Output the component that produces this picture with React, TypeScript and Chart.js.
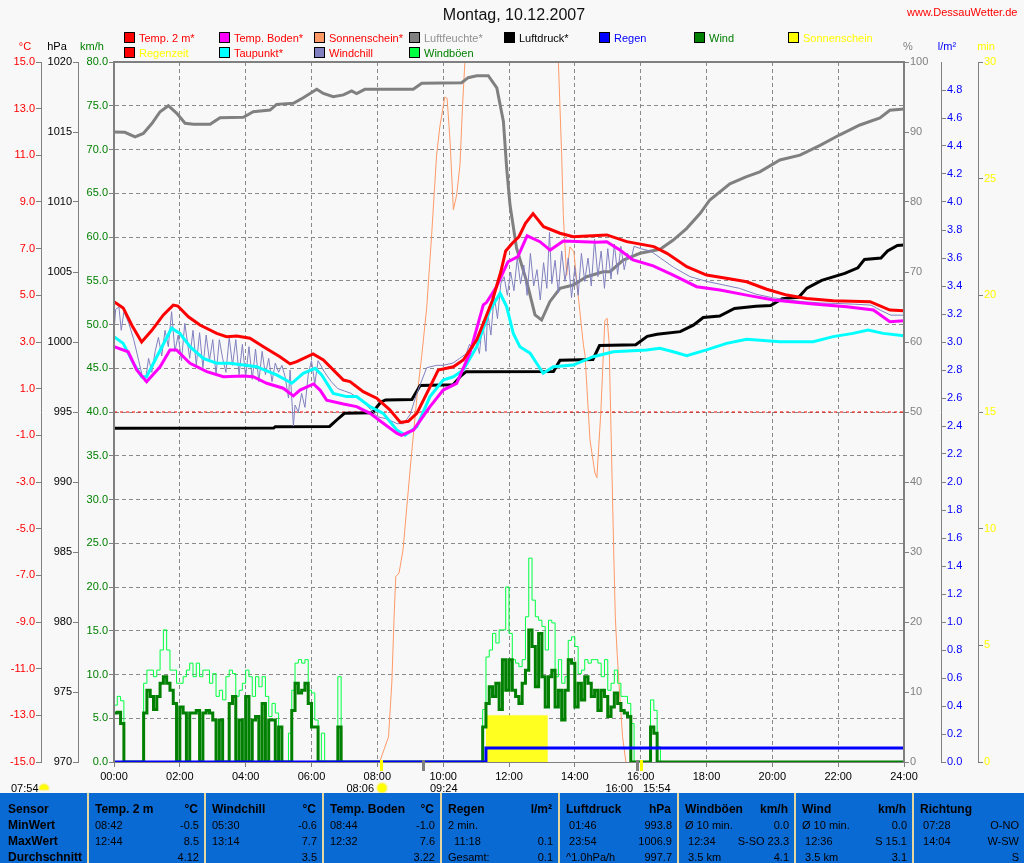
import React, { useEffect, useRef } from 'react';
import { Chart, registerables } from 'chart.js';

Chart.register(...registerables);

const FONT = "'Liberation Sans', Arial, sans-serif";

// ---------- ticks ----------
const HOUR_TICKS = [0, 2, 4, 6, 8, 10, 12, 14, 16, 18, 20, 22, 24];
const TEMP_TICKS = [-15, -13, -11, -9, -7, -5, -3, -1, 1, 3, 5, 7, 9, 11, 13, 15];
const HPA_TICKS = [970, 975, 980, 985, 990, 995, 1000, 1005, 1010, 1015, 1020];
const KMH_TICKS = [0, 5, 10, 15, 20, 25, 30, 35, 40, 45, 50, 55, 60, 65, 70, 75, 80];
const PCT_TICKS = [0, 10, 20, 30, 40, 50, 60, 70, 80, 90, 100];
const RAIN_TICKS = [0, 0.2, 0.4, 0.6, 0.8, 1.0, 1.2, 1.4, 1.6, 1.8, 2.0, 2.2, 2.4, 2.6, 2.8, 3.0, 3.2, 3.4, 3.6, 3.8, 4.0, 4.2, 4.4, 4.6, 4.8];
const MIN_TICKS = [0, 5, 10, 15, 20, 25, 30];

// ---------- series: [hour, value] ----------
const TEMP_2M = [
  [0, 4.73], [0.28, 4.46], [0.55, 3.7], [0.84, 3.0], [1.15, 3.5], [1.5, 4.16], [1.8, 4.58], [1.94, 4.54],
  [2.26, 4.08], [2.61, 3.73], [3.12, 3.37], [3.42, 3.23], [3.73, 3.26], [4.13, 3.16], [4.54, 2.8], [5.04, 2.37],
  [5.35, 2.06], [5.55, 2.16], [6.05, 2.49], [6.36, 2.23], [6.97, 1.37], [7.17, 1.3], [7.57, 0.87], [7.98, 0.59],
  [8.38, 0.09], [8.7, -0.45], [8.94, -0.4], [9.2, -0.06], [9.6, 1.08], [9.85, 1.8], [10.31, 1.94], [10.61, 2.23],
  [11.02, 3.09], [11.25, 3.9], [11.5, 4.8], [11.75, 6.0], [11.9, 6.9], [12.1, 7.23], [12.3, 7.51], [12.5, 8.09],
  [12.73, 8.5], [13.05, 7.94], [13.55, 7.66], [13.95, 7.51], [14.97, 7.59], [15.58, 7.3], [16.4, 7.09], [16.8, 6.8],
  [17.4, 6.23], [18.0, 5.87], [18.6, 5.73], [19.22, 5.58], [19.83, 5.26], [20.44, 5.01], [21.04, 4.86], [21.85, 4.77],
  [22.97, 4.73], [23.57, 4.37], [24, 4.34],
];

const TEMP_BODEN = [
  [0, 2.8], [0.43, 2.58], [0.69, 1.8], [0.99, 1.3], [1.4, 1.94], [1.7, 2.66], [1.9, 2.66], [2.31, 2.09],
  [2.82, 1.73], [3.32, 1.51], [3.93, 1.54], [4.23, 1.51], [4.64, 1.23], [5.14, 1.02], [5.45, 0.69], [5.65, 0.94],
  [6.06, 1.2], [6.26, 0.94], [6.46, 0.51], [6.97, 0.34], [7.37, 0.23], [7.78, -0.06], [8.18, -0.48], [8.59, -0.91],
  [8.73, -1.0], [9.1, -0.77], [9.6, 0.23], [10.0, 0.94], [10.41, 1.23], [10.81, 2.52], [11.22, 4.59], [11.32, 4.7],
  [11.62, 5.37], [11.97, 6.44], [12.27, 6.66], [12.55, 7.55], [12.94, 7.3], [13.25, 6.94], [13.65, 7.33], [14.66, 7.27],
  [14.97, 7.3], [15.37, 6.94], [15.77, 6.52], [16.38, 6.26], [16.99, 5.87], [17.7, 5.37], [18.41, 5.23], [19.22, 5.01],
  [20.03, 4.8], [21.24, 4.63], [22.26, 4.51], [23.07, 4.37], [23.57, 3.87], [24, 3.91],
];

const TAUPUNKT = [
  [0, 3.23], [0.28, 2.94], [0.59, 2.09], [0.84, 1.51], [0.99, 1.51], [1.3, 2.37], [1.75, 3.59], [2.0, 3.37],
  [2.31, 2.8], [2.71, 2.3], [3.12, 2.09], [3.52, 2.09], [3.93, 2.01], [4.33, 1.94], [4.94, 1.59], [5.4, 1.23],
  [5.75, 1.66], [6.11, 1.87], [6.31, 1.59], [6.66, 0.8], [7.07, 0.66], [7.37, 0.66], [7.78, 0.23], [8.18, -0.06],
  [8.59, -0.77], [8.84, -0.99], [9.2, -0.63], [9.6, 0.66], [10.0, 1.37], [10.31, 1.51], [10.61, 1.8], [11.02, 2.8],
  [11.42, 4.37], [11.73, 5.09], [11.93, 4.51], [12.13, 3.37], [12.33, 2.8], [12.64, 2.52], [12.84, 2.09], [13.04, 1.66],
  [13.35, 1.94], [13.95, 2.01], [14.56, 2.37], [15.17, 2.58], [16.18, 2.66], [16.58, 2.73], [16.99, 2.58], [17.4, 2.41],
  [18.0, 2.66], [18.61, 2.94], [19.22, 3.12], [20.23, 3.01], [21.24, 3.01], [21.85, 3.23], [22.45, 3.37], [22.91, 3.51],
  [23.37, 3.37], [24, 3.27],
];

const WINDCHILL = [
  [0, 3.4], [0.05, 4.4], [0.15, 4.5], [0.22, 3.5], [0.3, 4.3], [0.45, 3.8], [0.6, 3.1], [0.75, 2.2], [0.85, 1.6],
  [0.95, 1.3], [1.05, 2.3], [1.15, 1.7], [1.25, 2.6], [1.35, 3.2], [1.45, 2.4], [1.55, 3.5], [1.65, 2.8], [1.75, 4.3],
  [1.85, 2.6], [1.95, 3.3], [2.05, 2.2], [2.15, 3.8], [2.3, 2.3], [2.4, 3.5], [2.5, 2.0], [2.6, 3.4], [2.7, 1.9],
  [2.8, 3.3], [2.9, 2.2], [3.0, 3.1], [3.1, 1.6], [3.2, 3.1], [3.3, 2.3], [3.4, 1.7], [3.5, 3.2], [3.6, 2.0],
  [3.7, 3.1], [3.8, 1.6], [3.9, 2.9], [4.0, 1.5], [4.1, 2.8], [4.2, 1.4], [4.3, 2.7], [4.4, 1.3], [4.5, 2.6],
  [4.6, 1.6], [4.7, 2.3], [4.8, 1.3], [4.9, 2.1], [5.0, 1.7], [5.1, 2.0], [5.2, 1.5], [5.3, 0.6], [5.35, 1.8],
  [5.45, -0.6], [5.5, 0.3], [5.6, 0.0], [5.7, 0.8], [5.8, 0.2], [5.9, 1.6], [6.0, 2.2], [6.1, 1.2], [6.2, 2.2],
  [6.4, 1.7], [6.6, 1.3], [6.8, 1.0], [7.0, 0.9], [7.2, 0.8], [7.4, 0.6], [7.6, 0.4], [7.8, 0.1], [8.0, -0.2],
  [8.3, -0.3], [8.6, -0.5], [8.8, -0.5], [9.0, -0.1], [9.2, 0.8], [9.5, 1.9], [9.8, 2.0], [10.0, 2.0], [10.3, 2.1],
  [10.5, 2.3], [10.7, 2.5], [10.8, 2.9], [10.9, 2.7], [11.0, 3.1], [11.1, 2.5], [11.2, 3.9], [11.3, 2.6], [11.35, 4.3],
  [11.45, 3.3], [11.55, 5.0], [11.65, 4.0], [11.75, 5.5], [11.85, 5.8], [11.95, 5.0], [12.05, 6.0], [12.15, 5.2],
  [12.25, 6.6], [12.35, 5.5], [12.45, 6.3], [12.55, 5.0], [12.65, 6.8], [12.75, 5.4], [12.85, 6.1], [12.95, 4.8],
  [13.05, 6.4], [13.15, 5.3], [13.23, 7.7], [13.3, 5.5], [13.4, 6.5], [13.5, 5.1], [13.6, 6.9], [13.7, 5.6],
  [13.8, 6.6], [13.9, 4.9], [14.0, 6.2], [14.1, 5.0], [14.2, 6.8], [14.3, 5.6], [14.4, 6.6], [14.5, 5.4], [14.6, 7.4],
  [14.7, 5.8], [14.8, 6.9], [14.9, 5.3], [15.0, 7.0], [15.1, 5.7], [15.2, 7.2], [15.3, 5.9], [15.4, 7.1], [15.5, 6.1],
  [15.6, 6.8], [15.7, 6.5], [15.8, 7.1], [16.0, 7.0], [16.3, 6.9], [16.6, 6.6], [17.0, 6.2], [17.5, 5.8], [18.0, 5.6],
  [18.5, 5.45], [19.0, 5.3], [19.5, 5.05], [20.0, 4.9], [20.5, 4.8], [21.0, 4.72], [21.5, 4.67], [22.0, 4.65],
  [22.5, 4.62], [23.0, 4.58], [23.3, 4.35], [23.6, 4.15], [24, 4.15],
];

const LUFTFEUCHTE = [
  [0, 90.0], [0.33, 89.95], [0.64, 89.3], [0.89, 89.8], [1.15, 91.2], [1.4, 92.9], [1.65, 93.76], [1.9, 92.7],
  [2.16, 91.24], [2.41, 91.1], [2.92, 91.1], [3.22, 92.05], [3.93, 92.1], [4.23, 92.9], [4.74, 93.14], [4.94, 93.95],
  [5.45, 94.1], [5.75, 94.9], [6.16, 96.1], [6.36, 95.5], [6.66, 95.05], [6.97, 95.3], [7.22, 95.86], [7.37, 95.5],
  [7.62, 96.1], [9.09, 96.1], [9.35, 96.95], [10.56, 97.04], [10.76, 97.76], [11.02, 98.04], [11.37, 98.04],
  [11.63, 96.3], [11.83, 91.5], [11.93, 84.8], [12.03, 79.6], [12.23, 73.4], [12.54, 68.6], [12.79, 63.86],
  [12.99, 63.14], [13.24, 65.76], [13.55, 67.67], [13.95, 68.14], [14.36, 69.33], [14.86, 70.04], [15.07, 70.04],
  [15.47, 71.7], [15.98, 72.67], [16.59, 73.24], [16.99, 74.57], [17.4, 76.24], [17.81, 78.38], [18.1, 80.29],
  [18.71, 82.6], [19.2, 83.6], [19.62, 84.3], [20.23, 86.0], [20.84, 86.7], [21.45, 88.1], [22.05, 89.6],
  [22.66, 91.0], [23.27, 92.0], [23.57, 93.1], [24, 93.3],
];

const LUFTDRUCK = [
  [0, 993.84], [4.85, 993.85], [4.9, 993.95], [6.55, 993.97], [6.8, 994.5], [7.0, 994.91], [7.85, 994.95],
  [8.1, 995.7], [8.25, 995.86], [9.05, 995.9], [9.3, 996.9], [10.3, 996.95], [10.55, 997.6], [10.7, 997.88],
  [13.35, 997.9], [13.55, 998.7], [14.55, 998.75], [14.75, 999.75], [15.85, 999.8], [16.2, 1000.4], [16.5, 1000.55],
  [17.2, 1000.74], [17.6, 1001.2], [17.9, 1001.75], [18.4, 1001.85], [18.85, 1002.4], [19.5, 1002.55],
  [19.95, 1002.6], [20.3, 1003.1], [20.8, 1003.2], [21.05, 1003.85], [21.5, 1004.4], [22.2, 1004.9],
  [22.6, 1005.3], [22.8, 1005.9], [23.3, 1006.0], [23.5, 1006.5], [23.8, 1006.9], [24, 1006.93],
];

// radiation-like "Sonnenschein*" curve (hidden 0..1000 scale)
const SONNE_STAR = [
  [8.07, 0], [8.34, 36], [8.44, 113], [8.51, 208], [8.56, 265], [8.66, 270], [8.78, 303], [9.0, 420], [9.2, 520],
  [9.35, 581], [9.5, 649], [9.65, 753], [9.8, 867], [9.9, 908], [10.05, 950], [10.12, 948], [10.21, 886],
  [10.31, 789], [10.41, 810], [10.51, 853], [10.59, 939], [10.66, 1000], [10.75, 1150], [11.0, 1250], [13.2, 1250],
  [13.45, 1100], [13.5, 1000], [13.6, 867], [13.65, 781], [13.75, 695], [13.85, 736], [13.97, 729], [14.1, 667],
  [14.26, 596], [14.31, 581], [14.46, 460], [14.61, 413], [14.67, 406], [14.79, 500], [14.91, 630], [14.98, 634],
  [15.04, 600], [15.18, 303], [15.23, 207], [15.28, 160], [15.34, 113], [15.45, 36], [15.55, 0],
];

// wind, km/h, one value every 6 minutes from 00:00 to 16:54
const WIND = [
  5.6, 5.7, 4.4, 0, 0, 0, 0, 0, 0, 5.6,
  8.2, 7.5, 6.0, 7.5, 9.0, 9.75, 9.0, 8.2, 6.7, 0,
  6.3, 5.6, 0, 5.6, 5.6, 5.9, 0, 5.6, 5.9, 5.6,
  4.8, 0, 4.8, 0, 0, 6.7, 7.5, 0, 4.8, 0,
  7.5, 0, 4.8, 5.2, 0, 6.7, 0, 4.8, 4.8, 0,
  4.0, 0, 0, 0, 5.9, 9.0, 7.9, 8.2, 9.0, 6.7,
  4.0, 4.0, 0, 0, 0, 0, 0, 0, 4.0, 0,
  0, 0, 0, 0, 0, 0, 0, 0, 0, 0,
  0, 0, 0, 0, 0, 0, 0, 0, 0, 0,
  0, 0, 0, 0, 0, 0, 0, 0, 0, 0,
  0, 0, 0, 0, 0, 0, 0, 0, 0, 0,
  0, 0, 4.0, 6.7, 8.6, 7.5, 9.0, 6.0, 11.7, 8.2,
  11.7, 8.2, 7.5, 6.7, 9.0, 10.5, 15.1, 13.2, 8.6, 14.7,
  9.75, 6.3, 9.75, 10.5, 6.3, 8.2, 4.8, 8.2, 11.7, 11.3,
  6.3, 9.0, 7.1, 9.75, 9.0, 7.5, 8.2, 5.9, 8.2, 7.5,
  5.2, 6.3, 7.9, 6.7, 5.9, 5.6, 5.2, 0, 0, 0,
  0, 0, 0, 4.0, 3.3, 0, 0, 0, 0, 0,
];

const WINDBOEN = [
  6.5, 7.5, 7.0, 0, 0, 0, 0, 0, 0, 9.0,
  10.5, 10.5, 9.75, 10.5, 12.8, 15.1, 12.8, 10.5, 10.5, 9.0,
  9.0, 9.75, 10.5, 11.3, 9.75, 11.3, 9.75, 10.5, 10.5, 9.0,
  10.1, 7.5, 8.2, 7.1, 9.75, 10.5, 10.1, 7.5, 8.2, 9.0,
  10.5, 9.75, 7.5, 9.75, 8.6, 9.75, 7.5, 5.2, 6.7, 5.6,
  4.0, 0, 0, 3.3, 8.2, 11.3, 11.7, 11.3, 11.7, 8.2,
  7.9, 4.8, 0, 3.3, 0, 0, 0, 0, 9.75, 0,
  0, 0, 0, 0, 0, 0, 0, 0, 0, 0,
  0, 0, 0, 0, 0, 0, 0, 0, 0, 0,
  0, 0, 0, 0, 0, 0, 0, 0, 0, 0,
  0, 0, 0, 0, 0, 0, 0, 0, 0, 0,
  0, 0, 6.0, 12.0, 12.8, 14.7, 13.6, 15.1, 15.1, 20.0,
  14.7, 11.7, 11.3, 10.9, 11.7, 16.6, 23.3, 18.5, 16.6, 16.2,
  15.5, 12.8, 16.2, 15.9, 9.75, 11.7, 9.0, 9.75, 13.9, 14.3,
  13.2, 10.1, 10.5, 11.7, 11.3, 11.7, 11.7, 11.3, 9.75, 11.7,
  8.2, 9.0, 10.5, 9.0, 7.5, 7.5, 6.7, 4.4, 0, 0,
  0, 0, 0, 7.1, 5.9, 1.75, 0, 0, 0, 0,
];

const REGEN = [[0, 0], [11.3, 0], [11.3, 0.1], [24, 0.1]];
const SONNE_MIN = [[11.3, 2], [13.18, 2]];
const NULL_LINE = [[0, 0], [24, 0]];

// sunrise / event marks under the time axis
const MARKS = [
  { t: 8.1, color: '#ffff00' },
  { t: 9.4, color: '#808080' },
  { t: 15.9, color: '#808080' },
  { t: 16.0, color: '#ffff00' },
];

const LEGEND = [
  { x: 124, y: 37, box: '#ff0000', text: 'Temp. 2 m*', color: '#ff0000' },
  { x: 219, y: 37, box: '#ff00ff', text: 'Temp. Boden*', color: '#ff0000' },
  { x: 314, y: 37, box: '#ff9966', text: 'Sonnenschein*', color: '#ff0000' },
  { x: 409, y: 37, box: '#808080', text: 'Luftfeuchte*', color: '#909090' },
  { x: 504, y: 37, box: '#000000', text: 'Luftdruck*', color: '#000000' },
  { x: 599, y: 37, box: '#0000ff', text: 'Regen', color: '#0000ff' },
  { x: 694, y: 37, box: '#008000', text: 'Wind', color: '#008000' },
  { x: 788, y: 37, box: '#ffff00', text: 'Sonnenschein', color: '#ffff00' },
  { x: 124, y: 52, box: '#ff0000', text: 'Regenzeit', color: '#ffff00' },
  { x: 219, y: 52, box: '#00ffff', text: 'Taupunkt*', color: '#ff0000' },
  { x: 314, y: 52, box: '#8080c0', text: 'Windchill', color: '#ff0000' },
  { x: 409, y: 52, box: '#00ff40', text: 'Windböen', color: '#008000' },
];

const TABLE_COLS = [
  { l: 89, r: 204, head: 'Temp. 2 m', unit: '°C', rows: [['08:42', '-0.5'], ['12:44', '8.5'], ['', '4.12']] },
  { l: 206, r: 322, head: 'Windchill', unit: '°C', rows: [['05:30', '-0.6'], ['13:14', '7.7'], ['', '3.5']] },
  { l: 324, r: 440, head: 'Temp. Boden', unit: '°C', rows: [['08:44', '-1.0'], ['12:32', '7.6'], ['', '3.22']] },
  { l: 442, r: 558, head: 'Regen', unit: 'l/m²', rows: [['2 min.', ''], ['  11:18', '0.1'], ['Gesamt:', '0.1']] },
  { l: 560, r: 677, head: 'Luftdruck', unit: 'hPa', rows: [[' 01:46', '993.8'], [' 23:54', '1006.9'], ['^1.0hPa/h', '997.7']] },
  { l: 679, r: 794, head: 'Windböen', unit: 'km/h', rows: [['Ø 10 min.', '0.0'], [' 12:34', 'S-SO 23.3'], [' 3.5 km', '4.1']] },
  { l: 796, r: 912, head: 'Wind', unit: 'km/h', rows: [['Ø 10 min.', '0.0'], [' 12:36', 'S 15.1'], [' 3.5 km', '3.1']] },
  { l: 914, r: 1024, head: 'Richtung', unit: '', rows: [[' 07:28', 'O-NO'], [' 14:04', 'W-SW'], ['', 'S']] },
];
const ROW_LABELS = ['Sensor', 'MinWert', 'MaxWert', 'Durchschnitt'];

// ---------- helpers ----------
const xy = (arr: number[][]) => arr.map(([x, y]) => ({ x, y }));
const seq = (vals: number[]) => {
  const pts = vals.map((v, i) => ({ x: i / 10, y: v }));
  pts.push({ x: 24, y: 0 });
  return pts;
};

const tickFont = { family: FONT, size: 11 };

function yScale(
  pos: 'left' | 'right', weight: number, min: number, max: number, ticks: number[],
  color: string, fmt: (v: number) => string, width: number, mainGrid = false,
) {
  return {
    type: 'linear',
    position: pos,
    weight,
    min,
    max,
    afterBuildTicks: (s: any) => { s.ticks = ticks.map((v) => ({ value: v })); },
    afterFit: (s: any) => { s.width = width; },
    ticks: { color, font: tickFont, padding: 1, autoSkip: false, callback: (v: any) => fmt(Number(v)) },
    grid: {
      display: true,
      drawOnChartArea: mainGrid,
      drawTicks: true,
      tickLength: 5,
      tickColor: '#808080',
      color: '#8a8a8a',
      lineWidth: 1,
    },
    border: { display: true, color: '#808080', width: 1, dash: mainGrid ? [4, 3] : [] },
  };
}

const framePlugin = {
  id: 'frame',
  afterDatasetsDraw(chart: any) {
    const { ctx, chartArea } = chart;
    const { left, right, top, bottom } = chartArea;
    ctx.save();
    ctx.strokeStyle = '#808080';
    ctx.lineWidth = 2;
    ctx.beginPath();
    ctx.moveTo(left, bottom);
    ctx.lineTo(left, top);
    ctx.lineTo(right, top);
    ctx.lineTo(right, bottom);
    ctx.stroke();
    ctx.restore();
  },
};

const marksPlugin = {
  id: 'marks',
  afterDraw(chart: any) {
    const { ctx, chartArea } = chart;
    const xs = chart.scales.x;
    ctx.save();
    MARKS.forEach((m) => {
      const px = Math.round(xs.getPixelForValue(m.t));
      ctx.fillStyle = m.color;
      ctx.fillRect(px - 1, chartArea.bottom - 2, 3, 11);
    });
    ctx.restore();
  },
};

function Txt(props: any) {
  const { x, y, c = '#000', s = 11, b = false, a = 'left', children } = props;
  const tx = a === 'left' ? '0' : a === 'right' ? '-100%' : '-50%';
  return (
    <div
      style={{
        position: 'absolute', left: x, top: y, transform: `translate(${tx},-50%)`, color: c,
        fontSize: s, fontWeight: b ? 'bold' : 'normal', lineHeight: 1, whiteSpace: 'pre', fontFamily: FONT,
      }}
    >
      {children}
    </div>
  );
}

function Sun(props: any) {
  const { x, y, half = false } = props;
  return (
    <div
      style={{
        position: 'absolute', left: x - 4, top: y - 4, width: 8, height: half ? 4 : 8,
        borderRadius: half ? '4px 4px 0 0' : '50%', background: '#ffff00',
        boxShadow: '0 0 2px 1px #ffee00',
      }}
    />
  );
}

export default function App() {
  const ref = useRef<HTMLCanvasElement>(null);

  useEffect(() => {
    const line = (label: string, data: any[], axis: string, color: string, width: number, order: number, extra: any = {}) => ({
      label, data, yAxisID: axis, borderColor: color, backgroundColor: color, borderWidth: width,
      pointRadius: 0, tension: 0, fill: false, order, ...extra,
    });

    const chart = new Chart(ref.current as HTMLCanvasElement, {
      type: 'line',
      data: {
        datasets: [
          line('Regen', xy(REGEN), 'rain', '#0000ff', 3, 0),
          line('Wind', seq(WIND), 'kmh', '#008000', 3, 1, { stepped: true }),
          line('Windböen', seq(WINDBOEN), 'kmh', '#00ff40', 1, 2, { stepped: true }),
          line('Temp. 2 m*', xy(TEMP_2M), 'temp', '#ff0000', 3, 3),
          line('Temp. Boden*', xy(TEMP_BODEN), 'temp', '#ff00ff', 3, 4),
          line('Taupunkt*', xy(TAUPUNKT), 'temp', '#00ffff', 3, 5),
          line('Windchill', xy(WINDCHILL), 'temp', '#8080c0', 1, 6),
          line('Luftdruck*', xy(LUFTDRUCK), 'hpa', '#000000', 3, 7),
          line('Luftfeuchte*', xy(LUFTFEUCHTE), 'pct', '#808080', 3, 8),
          line('Sonnenschein*', xy(SONNE_STAR), 'sunW', '#ff9966', 1, 9),
          line('0 °C', xy(NULL_LINE), 'temp', '#ff0000', 1, 10, { borderDash: [3, 3] }),
          line('Sonnenschein', xy(SONNE_MIN), 'min', 'rgba(0,0,0,0)', 0, 11, {
            fill: 'origin', backgroundColor: '#ffff20',
          }),
        ],
      },
      options: {
        responsive: false,
        animation: false,
        events: [],
        layout: { padding: { top: 62, left: 0, right: 0, bottom: 0 } },
        plugins: { legend: { display: false }, tooltip: { enabled: false }, title: { display: false } },
        scales: {
          x: {
            type: 'linear',
            position: 'bottom',
            min: 0,
            max: 24,
            afterBuildTicks: (s: any) => { s.ticks = HOUR_TICKS.map((v) => ({ value: v })); },
            afterFit: (s: any) => { s.height = 33; },
            ticks: {
              color: '#000', font: tickFont, padding: 3, maxRotation: 0, autoSkip: false,
              callback: (v: any) => `${Number(v) < 10 ? '0' : ''}${v}:00`,
            },
            grid: {
              display: true, drawOnChartArea: true, drawTicks: true, tickLength: 5,
              tickColor: '#808080', color: '#8a8a8a', lineWidth: 1,
            },
            border: { display: true, color: '#808080', width: 1, dash: [4, 3] },
          },
          kmh: yScale('left', 0, 0, 80, KMH_TICKS, '#008000', (v) => v.toFixed(1), 36, true),
          hpa: yScale('left', 1, 970, 1020, HPA_TICKS, '#000000', (v) => String(v), 37),
          temp: yScale('left', 2, -15, 15, TEMP_TICKS, '#ff0000', (v) => v.toFixed(1), 41),
          pct: yScale('right', 0, 0, 100, PCT_TICKS, '#808080', (v) => String(v), 37),
          rain: yScale('right', 1, 0, 5, RAIN_TICKS, '#0000ff', (v) => v.toFixed(1), 37),
          min: yScale('right', 2, 0, 30, MIN_TICKS, '#ffff00', (v) => String(v), 46),
          sunW: { type: 'linear', display: false, min: 0, max: 1000 },
        } as any,
      },
      plugins: [framePlugin, marksPlugin],
    } as any);

    return () => chart.destroy();
  }, []);

  const rowY = [809, 825, 841, 857];

  return (
    <div
      style={{
        position: 'absolute', left: 0, top: 0, width: 1024, height: 863, background: '#f8f8f8',
        overflow: 'hidden', fontFamily: FONT,
      }}
    >
      <canvas ref={ref} width={1024} height={795} style={{ position: 'absolute', left: 0, top: 0, width: 1024, height: 795 }} />

      <Txt x={514} y={15} s={16} a="center" c="#101010">Montag, 10.12.2007</Txt>
      <Txt x={907} y={12} c="#ff0000">www.DessauWetter.de</Txt>

      {LEGEND.map((it) => (
        <React.Fragment key={it.text}>
          <div
            style={{
              position: 'absolute', left: it.x, top: it.y - 5, width: 9, height: 9,
              background: it.box, border: '1px solid #000',
            }}
          />
          <Txt x={it.x + 15} y={it.y + 1} c={it.color}>{it.text}</Txt>
        </React.Fragment>
      ))}

      <Txt x={25} y={46} a="center" c="#ff0000">°C</Txt>
      <Txt x={57} y={46} a="center" c="#000000">hPa</Txt>
      <Txt x={92} y={46} a="center" c="#008000">km/h</Txt>
      <Txt x={908} y={46} a="center" c="#808080">%</Txt>
      <Txt x={947} y={46} a="center" c="#0000ff">l/m²</Txt>
      <Txt x={986} y={46} a="center" c="#ffff00">min</Txt>

      <Txt x={11} y={788}>07:54</Txt>
      <Sun x={44} y={789} half />
      <Txt x={374} y={788} a="right">08:06</Txt>
      <Sun x={382} y={788} />
      <Txt x={430} y={788}>09:24</Txt>
      <Txt x={633} y={788} a="right">16:00</Txt>
      <Txt x={643} y={788}>15:54</Txt>

      <div style={{ position: 'absolute', left: 0, top: 793, width: 1024, height: 70, background: '#0a6ad4' }} />
      {TABLE_COLS.map((c) => (
        <div key={c.l} style={{ position: 'absolute', left: c.l - 2, top: 793, width: 2, height: 70, background: '#e6d6a0' }} />
      ))}
      {ROW_LABELS.map((t, i) => (
        <Txt key={t} x={8} y={rowY[i]} s={12} b>{t}</Txt>
      ))}
      {TABLE_COLS.map((c) => (
        <React.Fragment key={c.head}>
          <Txt x={c.l + 6} y={rowY[0]} s={12} b>{c.head}</Txt>
          {c.unit ? <Txt x={c.r - 6} y={rowY[0]} s={12} b a="right">{c.unit}</Txt> : null}
          {c.rows.map((r, i) => (
            <React.Fragment key={i}>
              {r[0] ? <Txt x={c.l + 6} y={rowY[i + 1]} s={11}>{r[0]}</Txt> : null}
              {r[1] ? <Txt x={c.r - 5} y={rowY[i + 1]} s={11} a="right">{r[1]}</Txt> : null}
            </React.Fragment>
          ))}
        </React.Fragment>
      ))}
    </div>
  );
}
